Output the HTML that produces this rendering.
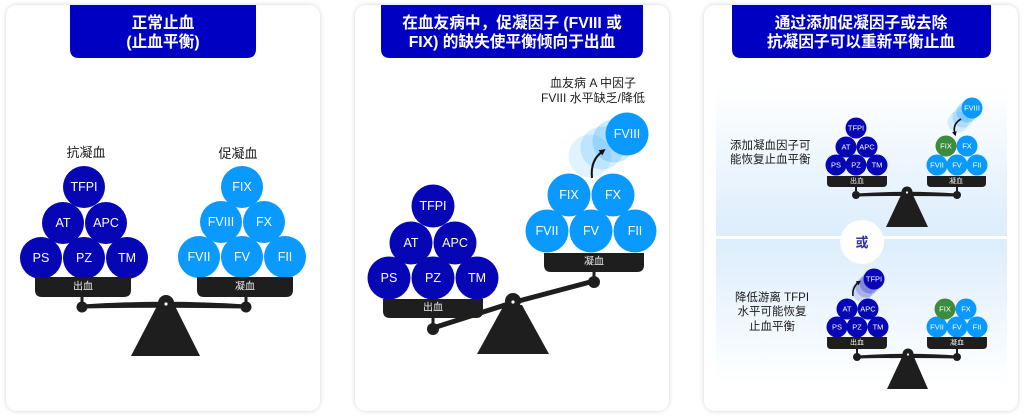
<!DOCTYPE html>
<html><head><meta charset="utf-8">
<style>
html,body{margin:0;padding:0;background:#fff;}
svg{display:block;}
text{font-family:"Liberation Sans","Noto Sans CJK SC",sans-serif;}
.h{font-family:"Liberation Sans","Noto Sans CJK SC",sans-serif;font-weight:bold;fill:#fff;font-size:15.7px;text-anchor:middle;}
.c{fill:#fff;font-size:12.5px;text-anchor:middle;dominant-baseline:central;}
.s{fill:#fff;font-size:7.5px;text-anchor:middle;dominant-baseline:central;}
.t{fill:#eee;font-size:10px;text-anchor:middle;dominant-baseline:central;}
.ts{fill:#eee;font-size:7px;text-anchor:middle;dominant-baseline:central;}
.lb{fill:#1a1a1a;font-size:13px;text-anchor:middle;}
.lb2{fill:#1a1a1a;font-size:12px;text-anchor:middle;}
.lb3{fill:#1a1a1a;font-size:11.5px;}
</style></head><body>
<svg width="1024" height="417" viewBox="0 0 1024 417" xmlns="http://www.w3.org/2000/svg">
<defs>
<filter id="sh" x="-5%" y="-5%" width="110%" height="110%">
<feDropShadow dx="0" dy="0" stdDeviation="2" flood-color="#000" flood-opacity="0.18"/>
</filter>
<linearGradient id="gTop" x1="0" y1="0" x2="0" y2="1">
<stop offset="0" stop-color="#ffffff"/>
<stop offset="1" stop-color="#dcedfc"/>
</linearGradient>
<linearGradient id="gBot" x1="0" y1="0" x2="0" y2="1">
<stop offset="0" stop-color="#dcedfc"/>
<stop offset="1" stop-color="#ffffff"/>
</linearGradient>
<marker id="ah" viewBox="0 0 10 10" refX="5" refY="5" markerWidth="3.2" markerHeight="3.2" orient="auto">
<path d="M0,0 L10,5 L0,10 Z" fill="#111"/>
</marker>
<marker id="ahs" viewBox="0 0 10 10" refX="5" refY="5" markerWidth="3" markerHeight="3" orient="auto">
<path d="M0,0 L10,5 L0,10 Z" fill="#111"/>
</marker>
</defs>

<!-- Cards -->
<rect x="6" y="5" width="314" height="406" rx="11" fill="#fff" filter="url(#sh)"/>
<rect x="355" y="5" width="314" height="406" rx="11" fill="#fff" filter="url(#sh)"/>
<rect x="704" y="5" width="314" height="406" rx="11" fill="#fff" filter="url(#sh)"/>

<!-- Headers -->
<path d="M70,5 H256 V49 Q256,58 247,58 H79 Q70,58 70,49 Z" fill="#0000c2"/>
<text class="h" x="163" y="28">正常止血</text>
<text class="h" x="163" y="47">(止血平衡)</text>

<path d="M381,5 H643 V49 Q643,58 634,58 H390 Q381,58 381,49 Z" fill="#0000c2"/>
<text class="h" x="512" y="28">在血友病中，促凝因子 (FVIII 或</text>
<text class="h" x="512" y="47">FIX) 的缺失使平衡倾向于出血</text>

<path d="M732,5 H991 V49 Q991,58 982,58 H741 Q732,58 732,49 Z" fill="#0000c2"/>
<text class="h" x="861" y="28">通过添加促凝因子或去除</text>
<text class="h" x="861" y="47">抗凝因子可以重新平衡止血</text>

<!-- ============ PANEL 1 ============ -->
<text class="lb" x="86" y="157">抗凝血</text>
<text class="lb" x="238" y="158">促凝血</text>
<g fill="#0606b4">
<circle cx="84" cy="187" r="21"/>
<circle cx="63" cy="223" r="21"/>
<circle cx="106" cy="223" r="21"/>
<circle cx="41" cy="258" r="21"/>
<circle cx="84" cy="258" r="21"/>
<circle cx="127" cy="258" r="21"/>
</g>
<text class="c" x="84" y="187">TFPI</text>
<text class="c" x="63" y="223">AT</text>
<text class="c" x="106" y="223">APC</text>
<text class="c" x="41" y="258">PS</text>
<text class="c" x="84" y="258">PZ</text>
<text class="c" x="127" y="258">TM</text>
<g fill="#0a99ff">
<circle cx="242" cy="187" r="21"/>
<circle cx="221" cy="222" r="21"/>
<circle cx="264" cy="222" r="21"/>
<circle cx="199" cy="257" r="21"/>
<circle cx="242" cy="257" r="21"/>
<circle cx="285" cy="257" r="21"/>
</g>
<text class="c" x="242" y="187">FIX</text>
<text class="c" x="221" y="222">FVIII</text>
<text class="c" x="264" y="222">FX</text>
<text class="c" x="199" y="257">FVII</text>
<text class="c" x="242" y="257">FV</text>
<text class="c" x="285" y="257">FII</text>
<g fill="#1e1e1e">
<path d="M35,277 H131 V290 Q131,297 124,297 H42 Q35,297 35,290 Z"/>
<path d="M197,277 H293 V290 Q293,297 286,297 H204 Q197,297 197,290 Z"/>
<rect x="80.5" y="296" width="3" height="11"/>
<rect x="244.5" y="296" width="3" height="11"/>
<path d="M82,304.5 Q166,299 246,304.5 L246,308.5 Q166,307 82,308.5 Z"/>
<circle cx="82" cy="307" r="5.5"/>
<circle cx="246" cy="307" r="5.5"/>
<polygon points="131,356 200,356 175,306 157,306"/>
<circle cx="166" cy="303" r="8"/>
</g>
<circle cx="166" cy="304" r="1.6" fill="#fff"/>
<text class="t" x="83" y="287">出血</text>
<text class="t" x="245" y="287">凝血</text>

<!-- ============ PANEL 2 ============ -->
<text class="lb2" x="593" y="87">血友病 A 中因子</text>
<text class="lb2" x="593" y="102">FVIII 水平缺乏/降低</text>
<g fill="#0606b4">
<circle cx="433" cy="206" r="21.5"/>
<circle cx="411" cy="243" r="21.5"/>
<circle cx="455" cy="243" r="21.5"/>
<circle cx="389" cy="278" r="21.5"/>
<circle cx="433" cy="278" r="21.5"/>
<circle cx="477" cy="278" r="21.5"/>
</g>
<text class="c" x="433" y="206">TFPI</text>
<text class="c" x="411" y="243">AT</text>
<text class="c" x="455" y="243">APC</text>
<text class="c" x="389" y="278">PS</text>
<text class="c" x="433" y="278">PZ</text>
<text class="c" x="477" y="278">TM</text>
<!-- ghosts -->
<circle cx="590" cy="156" r="21.5" fill="#0a99ff" opacity="0.12"/>
<circle cx="602" cy="148" r="21.5" fill="#0a99ff" opacity="0.16"/>
<circle cx="614" cy="141" r="21.5" fill="#0a99ff" opacity="0.22"/>
<g fill="#0a99ff">
<circle cx="627" cy="134" r="21.5"/>
<circle cx="569" cy="195" r="21.5"/>
<circle cx="613" cy="195" r="21.5"/>
<circle cx="547" cy="231" r="21.5"/>
<circle cx="591" cy="231" r="21.5"/>
<circle cx="635" cy="231" r="21.5"/>
</g>
<text class="c" x="627" y="134">FVIII</text>
<text class="c" x="569" y="195">FIX</text>
<text class="c" x="613" y="195">FX</text>
<text class="c" x="547" y="231">FVII</text>
<text class="c" x="591" y="231">FV</text>
<text class="c" x="635" y="231">FII</text>
<path d="M592,178 Q590,160 603,151" fill="none" stroke="#111" stroke-width="2" marker-end="url(#ah)"/>
<g fill="#1e1e1e">
<path d="M383,299 H483 V311 Q483,318 476,318 H390 Q383,318 383,311 Z"/>
<path d="M544,253 H644 V265 Q644,272 637,272 H551 Q544,272 544,265 Z"/>
<rect x="431.5" y="317" width="3" height="12"/>
<rect x="592.5" y="271" width="3" height="11"/>
<polygon points="477,354 549,354 522,305 504,305"/>
<circle cx="433" cy="329" r="6"/>
<circle cx="594" cy="282" r="6"/>
<circle cx="513" cy="301" r="8"/>
</g>
<path d="M433,328 L513,302.5 L594,281" fill="none" stroke="#1e1e1e" stroke-width="5"/>
<circle cx="513" cy="302" r="1.6" fill="#fff"/>
<text class="t" x="433" y="308">出血</text>
<text class="t" x="594" y="262">凝血</text>

<!-- ============ PANEL 3 ============ -->
<rect x="716" y="87" width="291" height="149" fill="url(#gTop)"/>
<rect x="716" y="239" width="291" height="145" fill="url(#gBot)"/>
<circle cx="862" cy="242" r="22" fill="#fff"/>
<text x="862" y="247" font-size="13" font-weight="bold" fill="#333399" text-anchor="middle">或</text>

<text class="lb3" x="730" y="149">添加凝血因子可</text>
<text class="lb3" x="730" y="163">能恢复止血平衡</text>

<g fill="#0606b4">
<circle cx="856" cy="128" r="10.5"/>
<circle cx="846" cy="147" r="10.5"/>
<circle cx="867" cy="147" r="10.5"/>
<circle cx="836" cy="165" r="10.5"/>
<circle cx="856" cy="165" r="10.5"/>
<circle cx="877" cy="165" r="10.5"/>
</g>
<text class="s" x="856" y="128">TFPI</text>
<text class="s" x="846" y="147">AT</text>
<text class="s" x="867" y="147">APC</text>
<text class="s" x="836" y="165">PS</text>
<text class="s" x="856" y="165">PZ</text>
<text class="s" x="877" y="165">TM</text>
<circle cx="958" cy="122" r="10.5" fill="#0a99ff" opacity="0.14"/>
<circle cx="963" cy="117" r="10.5" fill="#0a99ff" opacity="0.2"/>
<circle cx="967" cy="112" r="10.5" fill="#0a99ff" opacity="0.28"/>
<g fill="#0a99ff">
<circle cx="972" cy="108" r="10.5"/>
<circle cx="967" cy="146" r="10.5"/>
<circle cx="937" cy="165" r="10.5"/>
<circle cx="957" cy="165" r="10.5"/>
<circle cx="977" cy="165" r="10.5"/>
</g>
<circle cx="946" cy="146" r="10.5" fill="#3d8c3d"/>
<text class="s" x="972" y="108">FVIII</text>
<text class="s" x="946" y="146">FIX</text>
<text class="s" x="967" y="146">FX</text>
<text class="s" x="937" y="165">FVII</text>
<text class="s" x="957" y="165">FV</text>
<text class="s" x="977" y="165">FII</text>
<path d="M961,119 Q952,124 955,134" fill="none" stroke="#111" stroke-width="1.6" marker-end="url(#ahs)"/>
<g fill="#1e1e1e">
<path d="M827,176 H887 V183 Q887,187 883,187 H831 Q827,187 827,183 Z"/>
<path d="M927,176 H986 V183 Q986,187 982,187 H931 Q927,187 927,183 Z"/>
<rect x="855" y="186" width="2" height="9"/>
<rect x="956" y="186" width="2" height="9"/>
<path d="M856,193.5 Q907,190 957,193.5 L957,196.5 Q907,195.5 856,196.5 Z"/>
<circle cx="856" cy="195" r="4"/>
<circle cx="957" cy="195" r="4"/>
<polygon points="886,227 928,227 913,195 901,195"/>
<circle cx="907" cy="192" r="5.5"/>
</g>
<circle cx="907" cy="192.5" r="1.1" fill="#fff"/>
<text class="ts" x="857" y="181.5">出血</text>
<text class="ts" x="956" y="181.5">凝血</text>

<!-- bottom section -->
<text class="lb3" x="772" y="301" text-anchor="middle">降低游离 TFPI</text>
<text class="lb3" x="772" y="315" text-anchor="middle">水平可能恢复</text>
<text class="lb3" x="772" y="330" text-anchor="middle">止血平衡</text>

<circle cx="862" cy="291" r="10.5" fill="#0606b4" opacity="0.12"/>
<circle cx="866" cy="287" r="10.5" fill="#0606b4" opacity="0.18"/>
<circle cx="870" cy="283" r="10.5" fill="#0606b4" opacity="0.25"/>
<g fill="#0606b4">
<circle cx="874" cy="279" r="10.5"/>
<circle cx="847" cy="309" r="10.5"/>
<circle cx="868" cy="309" r="10.5"/>
<circle cx="837" cy="327" r="10.5"/>
<circle cx="857" cy="327" r="10.5"/>
<circle cx="878" cy="327" r="10.5"/>
</g>
<text class="s" x="874" y="279">TFPI</text>
<text class="s" x="847" y="309">AT</text>
<text class="s" x="868" y="309">APC</text>
<text class="s" x="837" y="327">PS</text>
<text class="s" x="857" y="327">PZ</text>
<text class="s" x="878" y="327">TM</text>
<path d="M853,296 Q852,287 859,282" fill="none" stroke="#111" stroke-width="1.6" marker-end="url(#ahs)"/>
<g fill="#0a99ff">
<circle cx="966" cy="309" r="10.5"/>
<circle cx="937" cy="327" r="10.5"/>
<circle cx="957" cy="327" r="10.5"/>
<circle cx="977" cy="327" r="10.5"/>
</g>
<circle cx="945" cy="309" r="10.5" fill="#3d8c3d"/>
<text class="s" x="945" y="309">FIX</text>
<text class="s" x="966" y="309">FX</text>
<text class="s" x="937" y="327">FVII</text>
<text class="s" x="957" y="327">FV</text>
<text class="s" x="977" y="327">FII</text>
<g fill="#1e1e1e">
<path d="M827,337 H887 V345 Q887,349 883,349 H831 Q827,349 827,345 Z"/>
<path d="M927,337 H987 V345 Q987,349 983,349 H931 Q927,349 927,345 Z"/>
<rect x="856" y="348" width="2" height="9"/>
<rect x="956" y="348" width="2" height="9"/>
<path d="M857,355.5 Q908,352 957,355.5 L957,358.5 Q908,357.5 857,358.5 Z"/>
<circle cx="857" cy="357" r="4"/>
<circle cx="957" cy="357" r="4"/>
<polygon points="887,389 928,389 914,357 902,357"/>
<circle cx="908" cy="354" r="5.5"/>
</g>
<circle cx="908" cy="354.5" r="1.1" fill="#fff"/>
<text class="ts" x="857" y="343">出血</text>
<text class="ts" x="957" y="343">凝血</text>
</svg>
</body></html>
